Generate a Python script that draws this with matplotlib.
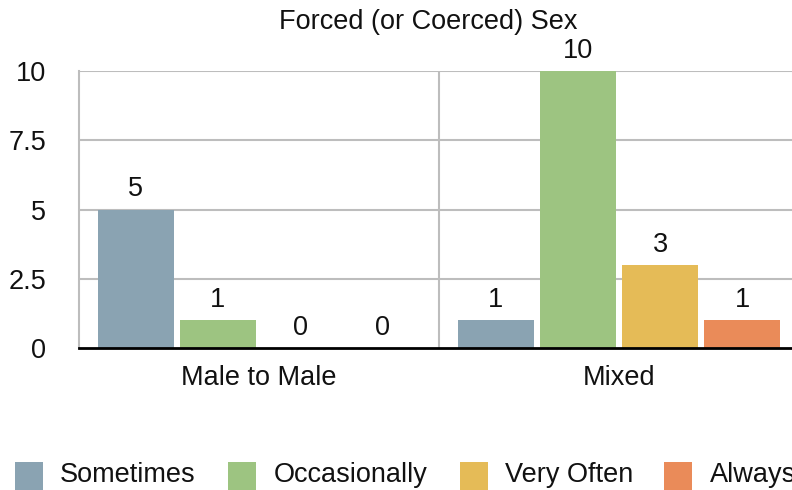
import matplotlib
matplotlib.use("Agg")
import matplotlib.pyplot as plt
from matplotlib.patches import Rectangle
import numpy as np

plt.rcParams['font.family'] = ['Liberation Sans', 'DejaVu Sans']

title = "Forced (or Coerced) Sex"
categories = ["Male to Male", "Mixed"]
series = ["Sometimes", "Occasionally", "Very Often", "Always"]
values = {
    "Sometimes":    [5, 1],
    "Occasionally": [1, 10],
    "Very Often":   [0, 3],
    "Always":       [0, 1],
}
colors = ["#8aa3b2", "#9dc481", "#e5bb57", "#ea8b59"]
yticks = [0, 2.5, 5, 7.5, 10]
ytick_labels = ["0", "2.5", "5", "7.5", "10"]

W, H = 792, 490
fig = plt.figure(figsize=(W / 100, H / 100), dpi=100)
ax = fig.add_axes([79 / W, 1 - 348 / H, (799 - 79) / W, (348 - 71) / H])

x = np.arange(len(categories))
step = 0.228
width = 0.213
fs = 19.5

for i, (name, col) in enumerate(zip(series, colors)):
    pos = x + (i - 1.5) * step
    vals = values[name]
    ax.bar(pos, vals, width=width, color=col, label=name, zorder=3)
    for px, v in zip(pos, vals):
        ax.annotate(str(v), (px, v), xytext=(0, 9.5), textcoords="offset points",
                    ha="center", va="baseline", fontsize=fs, color="#111111")

ax.set_xlim(-0.5, 1.5)
ax.set_ylim(0, 10)
ax.set_yticks(yticks)
ax.set_yticklabels(ytick_labels)
ax.set_xticks(x)
ax.set_xticklabels(categories)
ax.tick_params(axis="y", length=0, pad=23.5, labelsize=fs, labelcolor="#111111")
ax.tick_params(axis="x", length=0, pad=12, labelsize=fs, labelcolor="#111111")

# Horizontal grid and group separator
for yv in yticks[1:]:
    ax.axhline(yv, color="#bdbdbd", lw=1.5, zorder=1)
ax.axvline(0.5, color="#bdbdbd", lw=1.5, zorder=1)

for side in ["top", "right"]:
    ax.spines[side].set_visible(False)
ax.spines["left"].set_color("#bdbdbd")
ax.spines["left"].set_linewidth(1.5)
ax.spines["bottom"].set_color("#000000")
ax.spines["bottom"].set_linewidth(2)
ax.spines["bottom"].set_zorder(4)

fig.text(428 / W, 1 - 22 / H, title, ha="center", va="center",
         fontsize=fs, color="#111111")

# Legend row along the bottom edge
legend_box_x = [15, 228, 460, 664]
legend_text_x = [60, 274, 505, 710]
for name, col, bx, tx in zip(series, colors, legend_box_x, legend_text_x):
    fig.patches.append(Rectangle((bx / W, 1 - 490 / H), 28 / W, 28 / H,
                                 transform=fig.transFigure, facecolor=col,
                                 edgecolor="none"))
    fig.text(tx / W, 1 - 475 / H, name, ha="left", va="center",
             fontsize=fs, color="#111111")

fig.savefig("out.png", dpi=100)
